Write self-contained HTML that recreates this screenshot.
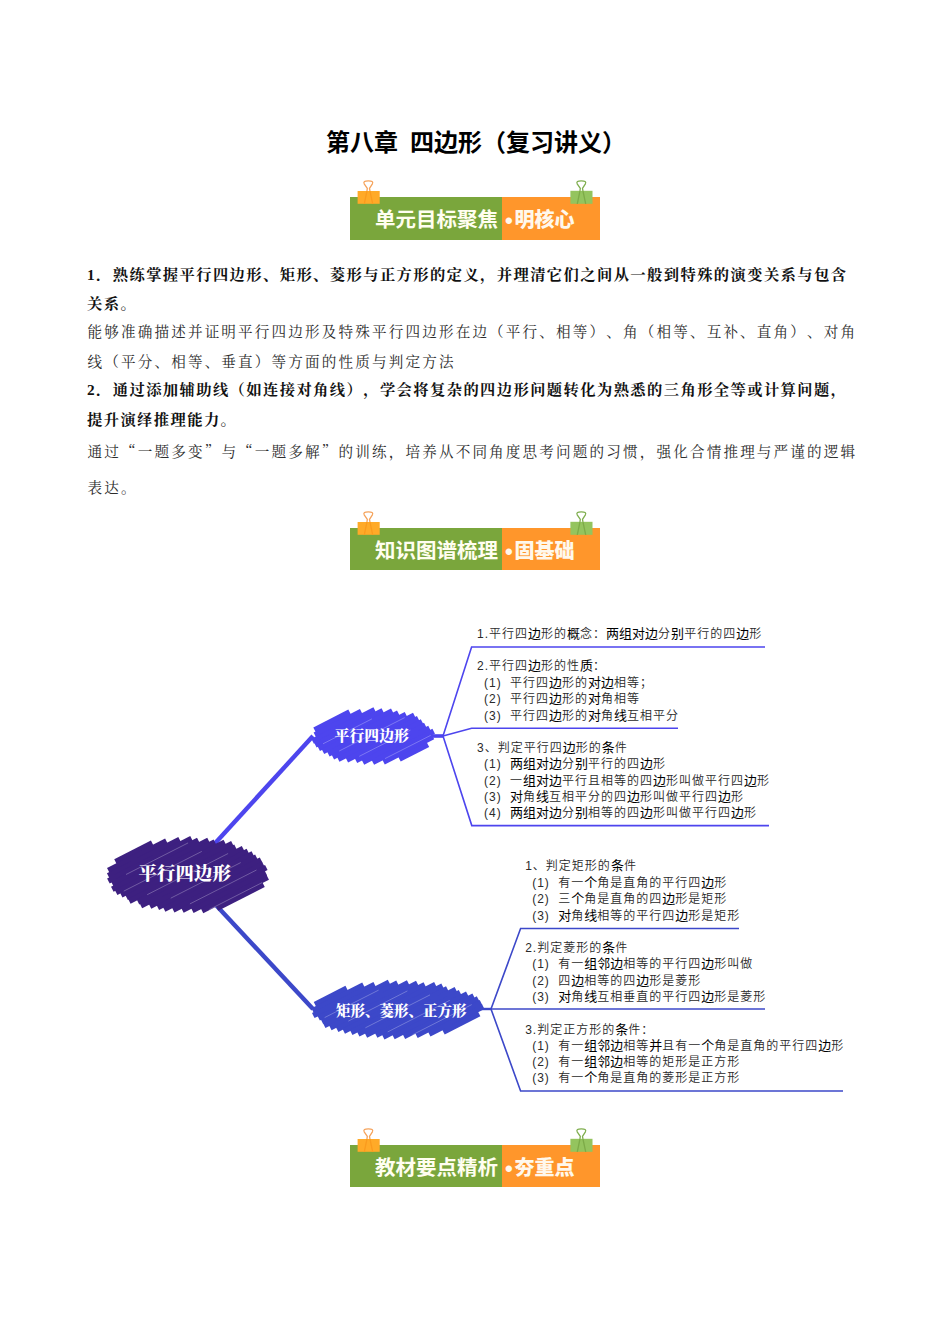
<!DOCTYPE html>
<html lang="zh-CN"><head><meta charset="utf-8"><title>第八章 四边形（复习讲义）</title>
<style>
html,body{margin:0;padding:0;background:#fff;}
body{width:950px;height:1344px;position:relative;overflow:hidden;font-family:"Liberation Serif", "Noto Serif CJK SC", serif;color:#000;}
.abs{position:absolute;white-space:nowrap;text-spacing-trim:space-all;font-kerning:none;font-feature-settings:"halt" 0,"palt" 0,"chws" 0,"kern" 0;}
.q{font-family:"Noto Serif CJK SC",serif;}
.title{left:326px;top:124.7px;font-family:"Liberation Sans", "Noto Sans CJK SC", sans-serif;font-weight:700;font-size:24px;line-height:36px;letter-spacing:0px;}
.b{left:87px;font-family:"Liberation Serif", "Noto Serif CJK SC", serif;font-weight:700;font-size:15.3px;line-height:24px;letter-spacing:1.4px;color:#111;}
.k{left:87.5px;font-family:"Liberation Serif", "Noto Serif CJK SC", serif;font-weight:400;font-size:14.6px;line-height:24px;letter-spacing:2.14px;color:#2c2c2c;}
.banner{position:absolute;left:350px;width:250px;height:42.3px;}
.banner .g{position:absolute;left:0.3px;top:0;width:151.7px;height:42.3px;background:#7aa63c;}
.banner .o{position:absolute;left:152px;top:0;width:97.8px;height:42.3px;background:#ff962b;}
.banner .t1{position:absolute;left:25px;top:7.7px;font-family:"Liberation Sans", "Noto Sans CJK SC", sans-serif;font-weight:700;font-size:20.5px;line-height:30px;color:#fffef0;white-space:nowrap;}
.banner .t2{position:absolute;left:164.5px;top:7.7px;font-family:"Liberation Sans", "Noto Sans CJK SC", sans-serif;font-weight:900;font-size:20px;line-height:30px;color:#fff8ec;white-space:nowrap;}
.banner svg{position:absolute;left:0;top:0;overflow:visible;}
.banner .dot{position:absolute;left:155px;top:8.5px;font-family:"Liberation Sans", "Noto Sans CJK SC", sans-serif;font-weight:700;font-size:22px;line-height:30px;color:#fff8ec;}
.mm{position:absolute;left:0;top:0;}
.mt{font-family:"Liberation Sans", "Noto Sans CJK SC", sans-serif;font-weight:350;font-size:12px;line-height:16px;letter-spacing:1.0px;color:#2a2a2a;}
.mt b{font-weight:400;font-size:13px;letter-spacing:0;color:#000;line-height:16px;}
.nt{font-family:"Liberation Serif", "Noto Serif CJK SC", serif;font-weight:900;color:#fff;}
</style></head>
<body>
<div class="abs title">第八章<span style="display:inline-block;width:12px;white-space:pre;overflow:hidden;vertical-align:top"> </span>四边形（复习讲义）</div>
<div class="banner" style="top:197.3px"><div class="g"></div><div class="o"></div>
<svg width="250" height="42" viewBox="0 0 250 42">
 <path d="M14.3 6.8 L17.0 -6.3 L17.3 -8.6 L14.2 -13.2 C13.2 -15.2 14.6 -16.2 18.3 -16.2 C22.0 -16.2 23.4 -15.2 22.4 -13.2 L19.5 -8.6 L19.9 -6.3 L22.7 6.8" fill="none" stroke="#f5a35c" stroke-width="1.3" stroke-linejoin="round"/>
 <rect x="7.6" y="-6" width="22.1" height="12.8" fill="#ffaa28"/>
 <path d="M14.3 6.8 L16.95 -6 M22.7 6.8 L19.95 -6" fill="none" stroke="#fa9b1e" stroke-width="1.3"/>
 <g transform="translate(213,0)">
 <path d="M14.3 6.8 L17.0 -6.3 L17.3 -8.6 L14.2 -13.2 C13.2 -15.2 14.6 -16.2 18.3 -16.2 C22.0 -16.2 23.4 -15.2 22.4 -13.2 L19.5 -8.6 L19.9 -6.3 L22.7 6.8" fill="none" stroke="#7fae4e" stroke-width="1.3" stroke-linejoin="round"/>
 <rect x="7.4" y="-6.2" width="22.1" height="13" fill="#94c45e"/>
 <path d="M14.3 6.8 L16.95 -6 M22.7 6.8 L19.95 -6" fill="none" stroke="#7dab48" stroke-width="1.3"/>
 </g>
</svg><div class="t1">单元目标聚焦</div><div class="dot">•</div><div class="t2">明核心</div></div>
<div class="abs b" style="top:263px;">1．熟练掌握平行四边形、矩形、菱形与正方形的定义，并理清它们之间从一般到特殊的演变关系与包含</div>
<div class="abs b" style="top:292px;">关系。</div>
<div class="abs k" style="top:320px;">能够准确描述并证明平行四边形及特殊平行四边形在边（平行、相等）、角（相等、互补、直角）、对角</div>
<div class="abs k" style="top:350px;">线（平分、相等、垂直）等方面的性质与判定方法</div>
<div class="abs b" style="top:378px;">2．通过添加辅助线（如连接对角线），学会将复杂的四边形问题转化为熟悉的三角形全等或计算问题，</div>
<div class="abs b" style="top:408px;">提升演绎推理能力。</div>
<div class="abs k" style="top:439px;">通过<span class="q">“</span>一题多变<span class="q">”</span>与<span class="q">“</span>一题多解<span class="q">”</span>的训练，培养从不同角度思考问题的习惯，强化合情推理与严谨的逻辑</div>
<div class="abs k" style="top:476.2px;">表达。</div>
<div class="banner" style="top:528.1px"><div class="g"></div><div class="o"></div>
<svg width="250" height="42" viewBox="0 0 250 42">
 <path d="M14.3 6.8 L17.0 -6.3 L17.3 -8.6 L14.2 -13.2 C13.2 -15.2 14.6 -16.2 18.3 -16.2 C22.0 -16.2 23.4 -15.2 22.4 -13.2 L19.5 -8.6 L19.9 -6.3 L22.7 6.8" fill="none" stroke="#f5a35c" stroke-width="1.3" stroke-linejoin="round"/>
 <rect x="7.6" y="-6" width="22.1" height="12.8" fill="#ffaa28"/>
 <path d="M14.3 6.8 L16.95 -6 M22.7 6.8 L19.95 -6" fill="none" stroke="#fa9b1e" stroke-width="1.3"/>
 <g transform="translate(213,0)">
 <path d="M14.3 6.8 L17.0 -6.3 L17.3 -8.6 L14.2 -13.2 C13.2 -15.2 14.6 -16.2 18.3 -16.2 C22.0 -16.2 23.4 -15.2 22.4 -13.2 L19.5 -8.6 L19.9 -6.3 L22.7 6.8" fill="none" stroke="#7fae4e" stroke-width="1.3" stroke-linejoin="round"/>
 <rect x="7.4" y="-6.2" width="22.1" height="13" fill="#94c45e"/>
 <path d="M14.3 6.8 L16.95 -6 M22.7 6.8 L19.95 -6" fill="none" stroke="#7dab48" stroke-width="1.3"/>
 </g>
</svg><div class="t1">知识图谱梳理</div><div class="dot">•</div><div class="t2">固基础</div></div>
<div class="banner" style="top:1145.2px"><div class="g"></div><div class="o"></div>
<svg width="250" height="42" viewBox="0 0 250 42">
 <path d="M14.3 6.8 L17.0 -6.3 L17.3 -8.6 L14.2 -13.2 C13.2 -15.2 14.6 -16.2 18.3 -16.2 C22.0 -16.2 23.4 -15.2 22.4 -13.2 L19.5 -8.6 L19.9 -6.3 L22.7 6.8" fill="none" stroke="#f5a35c" stroke-width="1.3" stroke-linejoin="round"/>
 <rect x="7.6" y="-6" width="22.1" height="12.8" fill="#ffaa28"/>
 <path d="M14.3 6.8 L16.95 -6 M22.7 6.8 L19.95 -6" fill="none" stroke="#fa9b1e" stroke-width="1.3"/>
 <g transform="translate(213,0)">
 <path d="M14.3 6.8 L17.0 -6.3 L17.3 -8.6 L14.2 -13.2 C13.2 -15.2 14.6 -16.2 18.3 -16.2 C22.0 -16.2 23.4 -15.2 22.4 -13.2 L19.5 -8.6 L19.9 -6.3 L22.7 6.8" fill="none" stroke="#7fae4e" stroke-width="1.3" stroke-linejoin="round"/>
 <rect x="7.4" y="-6.2" width="22.1" height="13" fill="#94c45e"/>
 <path d="M14.3 6.8 L16.95 -6 M22.7 6.8 L19.95 -6" fill="none" stroke="#7dab48" stroke-width="1.3"/>
 </g>
</svg><div class="t1">教材要点精析</div><div class="dot">•</div><div class="t2">夯重点</div></div>
<svg class="mm" width="950" height="1344" viewBox="0 0 950 1344">
<path d="M187 874 L313 736" stroke="#4d45ee" stroke-width="4.4" fill="none"/>
<path d="M187 874 L313 1009" stroke="#3c48c9" stroke-width="4.4" fill="none"/>
<g stroke="#4d45ee" fill="none" stroke-width="1.6" stroke-linejoin="miter">
<path d="M430 736 L443 736" stroke-width="3.6"/>
<path d="M443 736 L471.6 647 L765 647"/>
<path d="M443 736 L471.6 728.3 L678 728.3"/>
<path d="M443 736 L471.8 825.6 L769 825.6"/>
</g>
<g stroke="#3c48c9" fill="none" stroke-width="1.6" stroke-linejoin="miter">
<path d="M478 1009 L491 1009" stroke-width="2.4"/>
<path d="M491 1009 L520.6 928.5 L739 928.5"/>
<path d="M491 1009 L765 1009"/>
<path d="M491 1009 L520.6 1091 L843 1091"/>
</g>
<g stroke="#3d2080" stroke-width="5.6" fill="none">
<path d="M115.5 861.8L152.2 843.1"/>
<path d="M108.3 870.6L166.4 841.0"/>
<path d="M108.2 875.8L179.6 839.5"/>
<path d="M108.4 880.9L191.5 838.6"/>
<path d="M112.3 884.1L198.3 840.3"/>
<path d="M112.3 889.2L208.5 840.3"/>
<path d="M116.1 892.5L214.9 842.1"/>
<path d="M121.2 895.0L224.8 842.2"/>
<path d="M126.6 897.5L232.4 843.5"/>
<path d="M129.3 901.2L235.5 847.1"/>
<path d="M138.0 902.0L243.1 848.4"/>
<path d="M140.9 905.7L247.9 851.2"/>
<path d="M150.0 906.2L252.8 853.8"/>
<path d="M157.8 907.4L256.4 857.1"/>
<path d="M164.1 909.3L261.1 859.9"/>
<path d="M173.2 909.9L263.2 864.0"/>
<path d="M182.4 910.3L266.3 867.6"/>
<path d="M192.3 910.4L265.9 872.9"/>
<path d="M202.0 910.7L267.7 877.2"/>
<path d="M216.9 908.3L263.5 884.5"/>
</g>
<g stroke="#ffffff" stroke-opacity="0.45" stroke-width="0.6" fill="none">
<path d="M126.0 874.5L188.1 842.9"/>
<path d="M123.8 891.1L201.8 851.4"/>
<path d="M147.2 894.7L228.1 853.5"/>
<path d="M170.7 898.2L240.7 862.6"/>
<path d="M189.9 903.9L256.5 870.0"/>
<path d="M209.3 909.5L262.1 882.6"/>
</g>
<g stroke="#4d45ee" stroke-width="5.6" fill="none">
<path d="M314.6 730.0L349.6 712.1"/>
<path d="M314.9 735.0L361.2 711.4"/>
<path d="M312.6 741.3L374.7 709.7"/>
<path d="M315.3 745.1L382.8 710.7"/>
<path d="M318.7 748.5L392.3 711.0"/>
<path d="M322.9 751.6L398.3 713.1"/>
<path d="M328.3 754.0L406.0 714.4"/>
<path d="M332.8 756.9L414.3 715.3"/>
<path d="M338.2 759.3L418.2 718.5"/>
<path d="M346.8 760.0L422.1 721.7"/>
<path d="M355.9 760.6L425.3 725.2"/>
<path d="M362.9 762.2L429.5 728.2"/>
<path d="M372.8 762.3L433.7 731.3"/>
<path d="M383.5 762.0L432.9 736.8"/>
<path d="M399.4 759.1L427.9 744.5"/>
</g>
<g stroke="#ffffff" stroke-opacity="0.45" stroke-width="0.6" fill="none">
<path d="M323.0 743.8L371.9 718.9"/>
<path d="M339.2 751.0L404.7 717.6"/>
<path d="M359.3 756.3L410.4 730.2"/>
<path d="M385.0 758.6L430.8 735.3"/>
</g>
<g stroke="#3c48c9" stroke-width="5.6" fill="none">
<path d="M315.0 1004.5L346.7 988.3"/>
<path d="M312.7 1010.8L363.5 984.9"/>
<path d="M313.3 1015.6L374.7 984.4"/>
<path d="M318.6 1018.1L389.1 982.2"/>
<path d="M321.9 1021.6L397.5 983.1"/>
<path d="M324.2 1025.6L408.2 982.8"/>
<path d="M330.3 1027.7L417.3 983.3"/>
<path d="M337.1 1029.4L424.8 984.7"/>
<path d="M343.7 1031.2L435.4 984.4"/>
<path d="M351.2 1032.5L442.6 985.9"/>
<path d="M358.2 1034.1L447.3 988.7"/>
<path d="M365.9 1035.3L455.9 989.5"/>
<path d="M376.1 1035.3L460.1 992.5"/>
<path d="M383.2 1036.9L467.3 994.0"/>
<path d="M393.4 1036.8L473.7 995.9"/>
<path d="M403.9 1036.6L478.1 998.8"/>
<path d="M416.4 1035.4L481.0 1002.5"/>
<path d="M429.2 1034.1L483.2 1006.5"/>
<path d="M443.4 1031.9L479.1 1013.8"/>
</g>
<g stroke="#ffffff" stroke-opacity="0.45" stroke-width="0.6" fill="none">
<path d="M324.6 1017.6L378.6 990.1"/>
<path d="M348.3 1021.1L407.4 990.9"/>
<path d="M365.4 1027.8L430.0 994.9"/>
<path d="M387.7 1031.9L449.8 1000.3"/>
<path d="M412.5 1034.8L471.7 1004.6"/>
</g>
</svg>
<div class="abs nt" style="left:138.5px;top:860px;font-size:18.5px;line-height:28px;">平行四边形</div>
<div class="abs nt" style="left:334.5px;top:724px;font-size:14.9px;line-height:24px;">平行四边形</div>
<div class="abs nt" style="left:336px;top:998.6px;font-size:14.5px;line-height:24px;">矩形、菱形、正方形</div>
<div class="abs mt" style="left:477.0px;top:625.6px;">1.平行四<b>边</b>形的<b>概</b>念：<b>两组对边</b>分<b>别</b>平行的四<b>边</b>形</div>
<div class="abs mt" style="left:477.0px;top:658.4px;">2.平行四<b>边</b>形的性<b>质</b>：</div>
<div class="abs mt" style="left:484.0px;top:675px;">(1)</div><div class="abs mt" style="left:510.0px;top:675px;">平行四<b>边</b>形的<b>对边</b>相等；</div>
<div class="abs mt" style="left:484.0px;top:691.3px;">(2)</div><div class="abs mt" style="left:510.0px;top:691.3px;">平行四<b>边</b>形的<b>对</b>角相等</div>
<div class="abs mt" style="left:484.0px;top:707.6px;">(3)</div><div class="abs mt" style="left:510.0px;top:707.6px;">平行四<b>边</b>形的<b>对</b>角<b>线</b>互相平分</div>
<div class="abs mt" style="left:477.0px;top:739.6px;">3、判定平行四<b>边</b>形的<b>条</b>件</div>
<div class="abs mt" style="left:484.0px;top:756.4px;">(1)</div><div class="abs mt" style="left:510.0px;top:756.4px;"><b>两组对边</b>分<b>别</b>平行的四<b>边</b>形</div>
<div class="abs mt" style="left:484.0px;top:773px;">(2)</div><div class="abs mt" style="left:510.0px;top:773px;">一<b>组对边</b>平行且相等的四<b>边</b>形叫做平行四<b>边</b>形</div>
<div class="abs mt" style="left:484.0px;top:789px;">(3)</div><div class="abs mt" style="left:510.0px;top:789px;"><b>对</b>角<b>线</b>互相平分的四<b>边</b>形叫做平行四<b>边</b>形</div>
<div class="abs mt" style="left:484.0px;top:805px;">(4)</div><div class="abs mt" style="left:510.0px;top:805px;"><b>两组对边</b>分<b>别</b>相等的四<b>边</b>形叫做平行四<b>边</b>形</div>
<div class="abs mt" style="left:525.2px;top:858.4px;">1、判定矩形的<b>条</b>件</div>
<div class="abs mt" style="left:532.2px;top:874.6px;">(1)</div><div class="abs mt" style="left:558.2px;top:874.6px;">有一<b>个</b>角是直角的平行四<b>边</b>形</div>
<div class="abs mt" style="left:532.2px;top:891px;">(2)</div><div class="abs mt" style="left:558.2px;top:891px;">三<b>个</b>角是直角的四<b>边</b>形是矩形</div>
<div class="abs mt" style="left:532.2px;top:907.6px;">(3)</div><div class="abs mt" style="left:558.2px;top:907.6px;"><b>对</b>角<b>线</b>相等的平行四<b>边</b>形是矩形</div>
<div class="abs mt" style="left:525.2px;top:939.6px;">2.判定菱形的<b>条</b>件</div>
<div class="abs mt" style="left:532.2px;top:956.4px;">(1)</div><div class="abs mt" style="left:558.2px;top:956.4px;">有一<b>组邻边</b>相等的平行四<b>边</b>形叫做</div>
<div class="abs mt" style="left:532.2px;top:973px;">(2)</div><div class="abs mt" style="left:558.2px;top:973px;">四<b>边</b>相等的四<b>边</b>形是菱形</div>
<div class="abs mt" style="left:532.2px;top:989.4px;">(3)</div><div class="abs mt" style="left:558.2px;top:989.4px;"><b>对</b>角<b>线</b>互相垂直的平行四<b>边</b>形是菱形</div>
<div class="abs mt" style="left:525.2px;top:1021.5999999999999px;">3.判定正方形的<b>条</b>件：</div>
<div class="abs mt" style="left:532.2px;top:1038px;">(1)</div><div class="abs mt" style="left:558.2px;top:1038px;">有一<b>组邻边</b>相等<b>并</b>且有一<b>个</b>角是直角的平行四<b>边</b>形</div>
<div class="abs mt" style="left:532.2px;top:1054px;">(2)</div><div class="abs mt" style="left:558.2px;top:1054px;">有一<b>组邻边</b>相等的矩形是正方形</div>
<div class="abs mt" style="left:532.2px;top:1070.4px;">(3)</div><div class="abs mt" style="left:558.2px;top:1070.4px;">有一<b>个</b>角是直角的菱形是正方形</div>
</body></html>
